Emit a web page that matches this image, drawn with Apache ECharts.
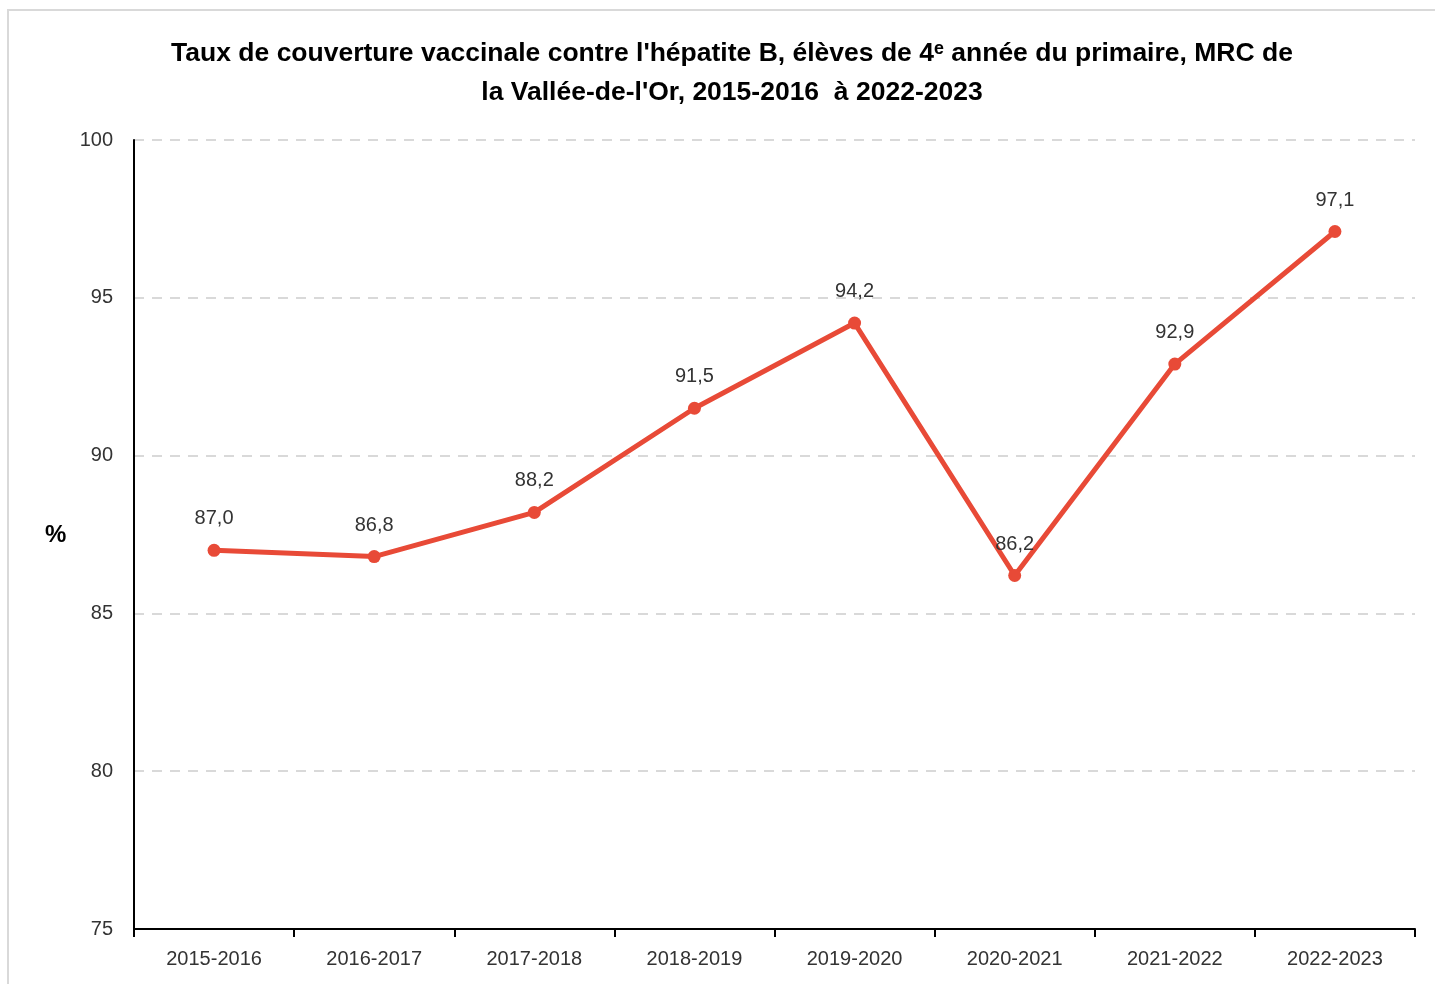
<!DOCTYPE html>
<html>
<head>
<meta charset="utf-8">
<script src="https://cdn.jsdelivr.net/npm/echarts@6/dist/echarts.min.js"></script>
<style>
  html, body { margin: 0; padding: 0; background: #fff; }
  #main { width: 1435px; height: 984px; }
</style>
</head>
<body>
<div id="main"></div>
<script>
var annees = ['2015-2016', '2016-2017', '2017-2018', '2018-2019', '2019-2020', '2020-2021', '2021-2022', '2022-2023'];
var taux = [87.0, 86.8, 88.2, 91.5, 94.2, 86.2, 92.9, 97.1];
var FONT = '"Liberation Sans Narrow", "Liberation Sans", Arial, sans-serif';

var myChart = echarts.init(document.getElementById('main'));
myChart.setOption({
  textStyle: { fontFamily: FONT },
  title: {
    text: "Taux de couverture vaccinale contre l'hépatite B, élèves de 4ᵉ année du primaire, MRC de\nla Vallée-de-l'Or, 2015-2016  à 2022-2023",
    left: 727,
    textAlign: 'center',
    top: 29,
    textStyle: { fontFamily: FONT, fontSize: 26.5, fontWeight: 'bold', color: '#000', lineHeight: 39 }
  },
  graphic: [
    {
      type: 'rect',
      shape: { x: 8, y: 10, width: 1440, height: 990 },
      style: { fill: 'none', stroke: '#d9d9d9', lineWidth: 2 }
    },
    {
      type: 'text',
      left: 45, top: 523,
      style: { text: '%', font: 'bold 24px ' + FONT, fill: '#000' }
    }
  ],
  grid: { left: 134, right: 20, top: 140, bottom: 55 },
  xAxis: {
    type: 'category',
    data: annees,
    boundaryGap: true,
    axisLine: { lineStyle: { color: '#000', width: 2 } },
    axisTick: { show: true, length: 8, lineStyle: { color: '#000', width: 2 } },
    axisLabel: { fontFamily: FONT, fontSize: 20, color: '#333', margin: 20 }
  },
  yAxis: {
    type: 'value',
    min: 75, max: 100, interval: 5,
    axisLine: { show: true, lineStyle: { color: '#000', width: 2 } },
    axisTick: { show: false },
    axisLabel: { fontFamily: FONT, fontSize: 20, color: '#333', margin: 21 },
    splitLine: { lineStyle: { color: '#d9d9d9', width: 2, type: [10, 8] } }
  },
  series: [{
    type: 'line',
    data: taux,
    symbol: 'circle',
    symbolSize: 13,
    itemStyle: { color: '#e84a37' },
    lineStyle: { color: '#e84a37', width: 5 },
    label: {
      show: true,
      position: 'top',
      distance: 15,
      fontFamily: FONT,
      fontSize: 20,
      color: '#333',
      formatter: function (p) { return p.value.toFixed(1).replace('.', ','); }
    }
  }]
});
</script>
</body>
</html>
